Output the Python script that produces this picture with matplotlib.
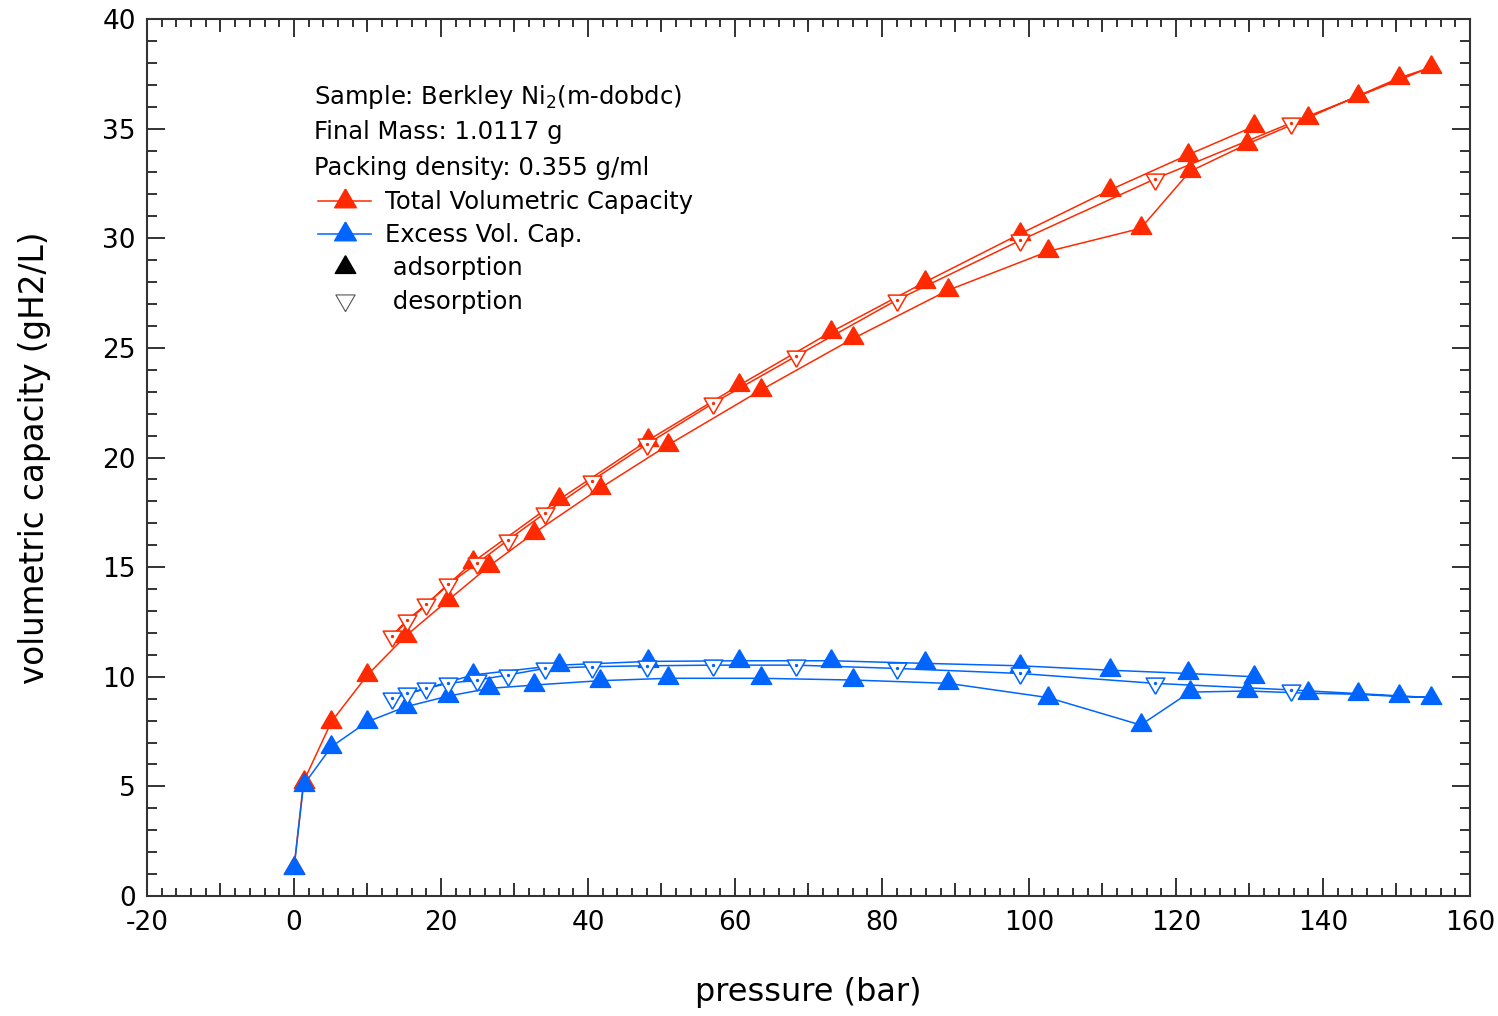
import matplotlib.pyplot as plt
from matplotlib.lines import Line2D
from matplotlib.ticker import MultipleLocator
import numpy as np

plt.rcParams['font.family'] = 'DejaVu Sans'
plt.rcParams['axes.unicode_minus'] = False

# first adsorption run, 0 -> 155 bar
p_ads1 = [0.0, 1.3, 5.1, 10.0, 15.2, 21.0, 26.6, 32.6, 41.6, 50.9, 63.5,
          76.1, 89.0, 102.6, 115.2, 121.9, 129.7, 138.0, 144.8, 150.3, 154.7]
tot_ads1 = [1.26, 5.21, 7.95, 10.08, 11.86, 13.5, 15.06, 16.54, 18.59, 20.57, 23.07,
            25.43, 27.63, 29.4, 30.45, 33.05, 34.3, 35.5, 36.5, 37.3, 37.8]
exc_ads1 = [1.26, 5.06, 6.81, 7.95, 8.63, 9.12, 9.47, 9.62, 9.82, 9.93, 9.93,
            9.85, 9.7, 9.05, 7.8, 9.3, 9.35, 9.25, 9.2, 9.1, 9.05]

# desorption, 155 -> 13 bar
p_des = [135.6, 117.1, 98.8, 82.0, 68.3, 57.0, 48.0, 40.5, 34.1, 29.1, 24.9,
         21.0, 18.0, 15.4, 13.3]
tot_des = [35.25, 32.7, 29.9, 27.18, 24.62, 22.47, 20.6, 18.94, 17.45, 16.23, 15.17,
           14.21, 13.3, 12.59, 11.86]
exc_des = [9.4, 9.7, 10.15, 10.38, 10.53, 10.53, 10.5, 10.46, 10.38, 10.08, 9.85,
           9.7, 9.47, 9.24, 9.01]

# second adsorption run
p_ads2 = [24.3, 36.1, 48.2, 60.6, 73.1, 85.9, 98.8, 111.0, 121.6, 130.6]
tot_ads2 = [15.22, 18.09, 20.79, 23.3, 25.73, 28.01, 30.2, 32.2, 33.8, 35.1]
exc_ads2 = [10.08, 10.53, 10.7, 10.73, 10.73, 10.61, 10.5, 10.3, 10.15, 10.0]

info_lines = [r"Sample: Berkley Ni$_2$(m-dobdc)",
              "Final Mass: 1.0117 g",
              "Packing density: 0.355 g/ml"]

RED = '#ff2a00'
BLUE = '#0064ff'
AXC = '#333333'

# triangles centred on their centroid
tri_up = [(0, 0.577), (-0.5, -0.289), (0.5, -0.289), (0, 0.577)]
tri_dn = [(0, -0.577), (-0.5, 0.289), (0.5, 0.289), (0, -0.577)]


def draw_series(ax, color, ads1, des, ads2):
    p_all = p_ads1 + p_des + p_ads2
    v_all = ads1 + des + ads2
    ax.plot(p_all, v_all, '-', color=color, lw=1.1)
    ax.plot(p_ads1, ads1, ls='none', marker=tri_up, ms=17, color=color)
    ax.plot(p_ads2, ads2, ls='none', marker=tri_up, ms=17, color=color)
    ax.plot(p_des, des, ls='none', marker=tri_dn, ms=15.5, mfc='white',
            mec=color, mew=1.1)
    ax.plot(p_des, des, ls='none', marker='o', ms=1.4, color=color)


fig = plt.figure(figsize=(14.98, 10.16), dpi=100)
ax = fig.add_axes([0.0981, 0.1181, 0.8832, 0.8632])

draw_series(ax, RED, tot_ads1, tot_des, tot_ads2)
draw_series(ax, BLUE, exc_ads1, exc_des, exc_ads2)

ax.set_xlim(-20, 160)
ax.set_ylim(0, 40)
ax.set_xticks(np.arange(-20, 161, 20))
ax.set_yticks(np.arange(0, 41, 5))
ax.xaxis.set_minor_locator(MultipleLocator(2))
ax.yaxis.set_minor_locator(MultipleLocator(1))
ax.tick_params(which='both', direction='in', top=True, right=True,
               color=AXC, width=1.4)
ax.tick_params(which='major', length=13, labelsize=19)
ax.tick_params(axis='x', which='major', pad=10)
ax.tick_params(axis='y', which='major', pad=8)
ax.tick_params(axis='x', which='minor', length=6)
ax.tick_params(axis='y', which='minor', length=7.5)
for sp in ax.spines.values():
    sp.set_color(AXC)
    sp.set_linewidth(1.5)

# medium ticks every 10 bar on bottom and top
for loc in ('bottom', 'top'):
    sec = ax.secondary_xaxis(loc)
    sec.set_xticks(np.arange(-10, 160, 20))
    sec.tick_params(direction='in', length=9.5, width=1.4, color=AXC,
                    labelbottom=False, labeltop=False)
    for sp in sec.spines.values():
        sp.set_visible(False)

ax.set_xlabel('pressure (bar)', fontsize=23)
ax.set_ylabel('volumetric capacity (gH2/L)', fontsize=23.5)
ax.xaxis.label.set_va('center')
ax.yaxis.label.set_va('center')
ax.xaxis.set_label_coords(0.5, -0.1095)
ax.yaxis.set_label_coords(-0.0847, 0.5)

for i, line in enumerate(info_lines):
    ax.text(0.1262, 0.9033 - i * 0.0405, line, transform=ax.transAxes,
            fontsize=17.5, va='baseline', ha='left')

handles = [
    Line2D([], [], color=RED, lw=1.1, marker=tri_up, ms=18),
    Line2D([], [], color=BLUE, lw=1.1, marker=tri_up, ms=18),
    Line2D([], [], ls='none', color='black', marker=tri_up, ms=17),
    Line2D([], [], ls='none', marker=tri_dn, ms=16, mfc='white',
           mec='#555555', mew=0.8),
]
labels = ['Total Volumetric Capacity', 'Excess Vol. Cap.',
          ' adsorption', ' desorption']
ax.legend(handles, labels, loc='upper left', bbox_to_anchor=(0.1293, 0.805),
          frameon=False, fontsize=17.5, borderpad=0, borderaxespad=0,
          handlelength=2.2, handletextpad=0.57, labelspacing=0.38)

fig.savefig('out.png', dpi=100)
